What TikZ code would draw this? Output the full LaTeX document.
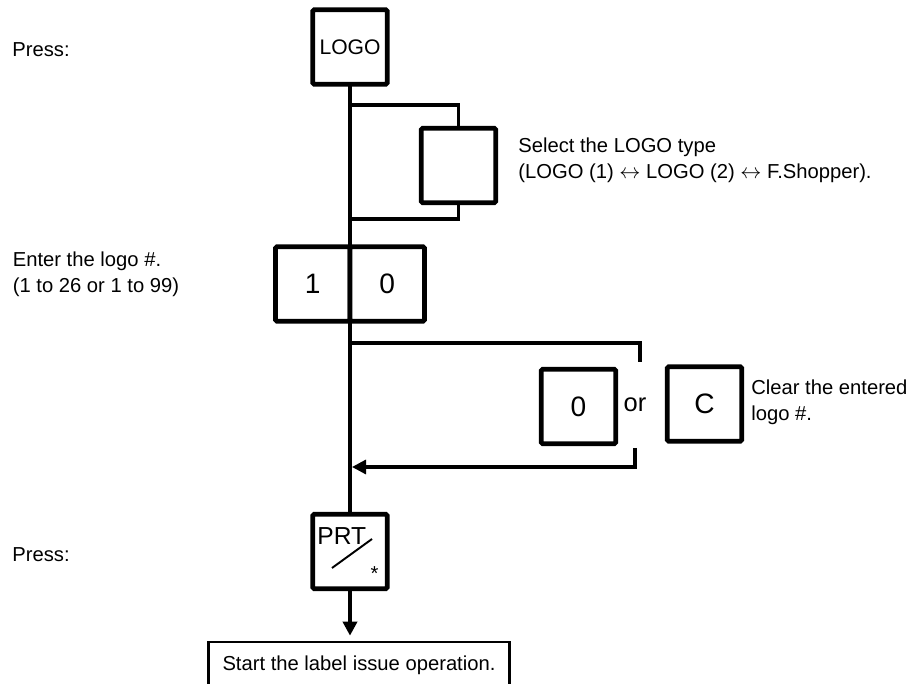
\documentclass[tikz,border=0pt]{standalone}
\usepackage{fontspec}
\setmainfont{Liberation Sans}
\usetikzlibrary{arrows.meta,calc,positioning}

\begin{document}
\begin{tikzpicture}[
  key/.style={draw,line width=2.6pt,rounded corners=0.8pt,fill=white,minimum size=1.49cm,
              inner sep=0pt,outer sep=0pt,font=\fontsize{#1}{#1}\selectfont},key/.default=12,
  txt/.style={inner sep=0pt,align=left,font=\fontsize{11.5}{14.8}\selectfont},
  flow/.style={line width=2.2pt},
  branch/.style={line width=1.8pt},
  tip/.style={-{Triangle[length=0.28cm,width=0.28cm]}}]
  \useasboundingbox (0,0) rectangle (18.2,13.68);
  \node[key] (logo) at (7,12.74) {LOGO};
  \node[key] (sel) at (9.17,10.37) {};
  \node[key=16,anchor=east] (one) at (7,8) {1};
  \node[key=16,anchor=west] (zero) at (7,8) {0};
  \node[key=16] (clr) at (11.57,5.55) {0};
  \node[txt,font=\fontsize{14.5}{14.5}\selectfont] (or) at (12.7,5.58) {or};
  \node[key=16] (clc) at (14.09,5.6) {C};
  \node[key] (prt) at (7,2.65) {};
  \node[inner sep=0pt,anchor=base west,font=\fontsize{14}{14}\selectfont] (prtlbl) at ($(prt.center)+(-0.66,0.13)$) {PRT};
  \draw[line width=1.1pt] ($(prt.center)+(-0.36,-0.33)$) -- ($(prt.center)+(0.44,0.25)$);
  \node[txt] (prtstar) at ($(prt.center)+(0.49,-0.44)$) {*};
  \node[draw,line width=1.5pt,minimum width=6.02cm,minimum height=0.92cm,inner sep=0pt,
        font=\fontsize{11.5}{14.8}\selectfont] (start) at (7.18,0.38) {Start the label issue operation.};
  \node[txt,anchor=base west] (press1) at (0.24,12.54) {Press:};
  \node[txt,anchor=west] (enter) at (0.25,8.2) {Enter the logo \#.\\(1 to 26 or 1 to 99)};
  \node[txt,anchor=west] (seltxt) at (10.36,10.48) {Select the LOGO type\\(LOGO (1) $\leftrightarrow$ LOGO (2) $\leftrightarrow$ F.Shopper).};
  \node[txt,anchor=west] (clrtxt) at (15.02,5.64) {Clear the entered\\logo \#.};
  \node[txt,anchor=base west] (press2) at (0.24,2.45) {Press:};
  \coordinate (b1in) at (7,11.58);
  \coordinate (b1out) at (7,9.30);
  \coordinate (b2in) at (7,6.82);
  \coordinate (b2top) at (12.8,6.44);
  \coordinate (b2bot) at (12.7,4.72);
  \coordinate (b2out) at (7.04,4.34);
  \draw[flow] (logo.south) -- (prt.north);
  \draw[branch] (b1in) -| (sel.north);
  \draw[branch] (sel.south) |- (b1out);
  \draw[branch] (b2in) -| (b2top);
  \draw[branch,tip] (b2bot) |- (b2out);
  \draw[flow,tip,shorten >=0.1cm] (prt.south) -- (prt.south |- start.north);
\end{tikzpicture}
\end{document}
